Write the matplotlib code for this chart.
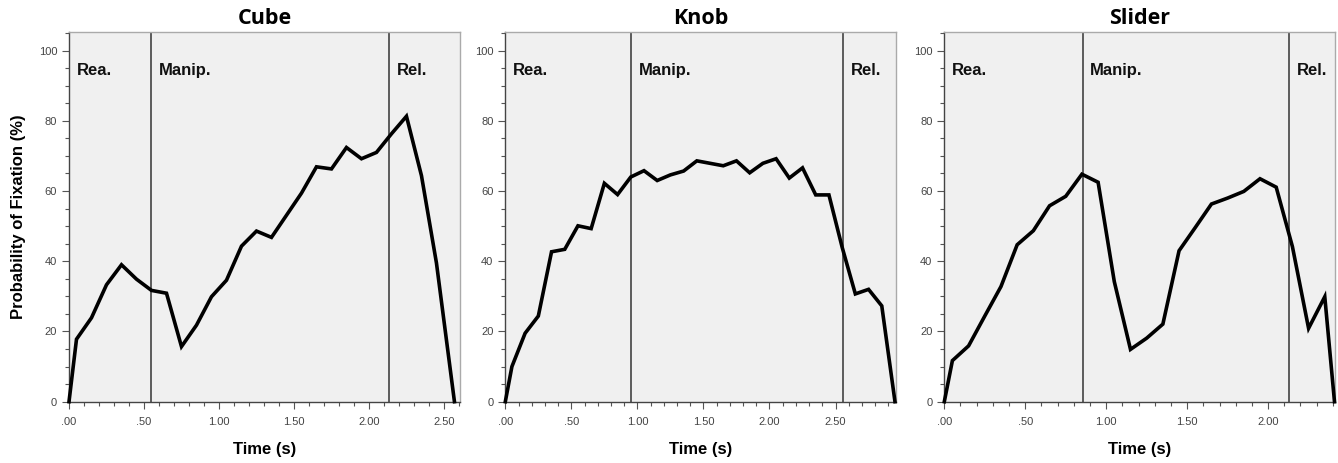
import matplotlib
matplotlib.use('Agg')
from matplotlib import pyplot as plt
from matplotlib.ticker import MultipleLocator, FuncFormatter

# time points (s) and probability of fixation (%)
cube_t = [0, 0.05, 0.15, 0.25, 0.35, 0.45, 0.55, 0.65, 0.75, 0.85, 0.95, 1.05,
          1.15, 1.25, 1.35, 1.45, 1.55, 1.65, 1.75, 1.85, 1.95, 2.05, 2.15,
          2.25, 2.35, 2.45, 2.57]
cube_p = [0, 17.8, 23.9, 33.3, 39.0, 34.9, 31.7, 30.9, 15.7, 21.8, 29.9, 34.6,
          44.3, 48.6, 46.8, 53.1, 59.4, 66.9, 66.3, 72.4, 69.2, 71.0, 76.3,
          81.3, 64.4, 39.5, 0]

knob_t = [0, 0.05, 0.15, 0.25, 0.35, 0.45, 0.55, 0.65, 0.75, 0.85, 0.95, 1.05,
          1.15, 1.25, 1.35, 1.45, 1.55, 1.65, 1.75, 1.85, 1.95, 2.05, 2.15,
          2.25, 2.35, 2.45, 2.55, 2.65, 2.75, 2.85, 2.95]
knob_p = [0, 10.0, 19.5, 24.4, 42.7, 43.4, 50.1, 49.3, 62.2, 59.0, 64.0, 65.8,
          63.0, 64.6, 65.7, 68.6, 67.9, 67.2, 68.6, 65.2, 67.9, 69.2, 63.7,
          66.6, 58.9, 58.9, 44.0, 30.7, 32.0, 27.3, 0]

slider_t = [0, 0.05, 0.15, 0.25, 0.35, 0.45, 0.55, 0.65, 0.75, 0.85, 0.95, 1.05,
            1.15, 1.25, 1.35, 1.45, 1.55, 1.65, 1.75, 1.85, 1.95, 2.05, 2.15,
            2.25, 2.35, 2.41]
slider_p = [0, 11.7, 15.9, 24.4, 32.8, 44.7, 48.7, 55.8, 58.5, 64.8, 62.5, 34.2,
            14.9, 18.1, 22.1, 43.0, 49.6, 56.3, 58.0, 59.9, 63.5, 61.1, 44.2,
            20.9, 29.9, 0]

titles = ['Cube', 'Knob', 'Slider']
phase_names = ['Rea.', 'Manip.', 'Rel.']
phase_bounds = [[0.55, 2.135], [0.95, 2.555], [0.855, 2.13]]
x_max = [2.607, 2.96, 2.415]

series = [(cube_t, cube_p), (knob_t, knob_p), (slider_t, slider_p)]
lefts = [69, 505.3, 944.3]

W, H = 1338, 463
fig = plt.figure(figsize=(W / 100, H / 100), dpi=100)
fig.patch.set_facecolor('white')


def fmt_time(v, pos):
    s = '%.2f' % v
    if s.startswith('0'):
        s = s[1:]
    return s


for i in range(3):
    ax = fig.add_axes([lefts[i] / W, (H - 401.7) / H, 391 / W, 369.7 / H])
    ax.set_facecolor('#f0f0f0')
    t, p = series[i]
    ax.plot(t, p, color='black', linewidth=2.6, solid_joinstyle='miter',
            clip_on=False, zorder=3)
    for b in phase_bounds[i]:
        ax.axvline(b, color='#333333', linewidth=1.1, zorder=2)
    starts = [0] + phase_bounds[i]
    for s, name in zip(starts, phase_names):
        ax.annotate(name, xy=(s, 94.4), xytext=(5.5, 0), textcoords='offset points',
                    fontsize=12, fontweight='bold', family='Liberation Sans',
                    va='center', ha='left', color='#111111')
    ax.set_xlim(0, x_max[i])
    ax.set_ylim(0, 105.3)
    ax.yaxis.set_major_locator(MultipleLocator(20))
    ax.yaxis.set_minor_locator(MultipleLocator(5))
    ax.xaxis.set_major_locator(MultipleLocator(0.5))
    ax.xaxis.set_minor_locator(MultipleLocator(0.1))
    ax.xaxis.set_major_formatter(FuncFormatter(fmt_time))
    ax.tick_params(axis='both', which='major', labelsize=8, labelcolor='#444444',
                   color='#555555', length=5, width=0.8)
    ax.tick_params(axis='both', which='minor', color='#555555', length=3, width=0.8)
    ax.tick_params(axis='x', which='major', pad=6)
    for lab in ax.get_xticklabels() + ax.get_yticklabels():
        lab.set_family('Liberation Sans')
    ax.spines['left'].set_color('#444444')
    ax.spines['bottom'].set_color('#444444')
    ax.spines['top'].set_color('#aaaaaa')
    ax.spines['right'].set_color('#aaaaaa')
    for sp in ax.spines.values():
        sp.set_linewidth(1.0)
    ax.set_title(titles[i], fontsize=15.5, fontweight='bold', family='Open Sans', pad=6)
    ax.set_xlabel('Time (s)', fontsize=12, fontweight='bold', family='Liberation Sans',
                  labelpad=11)
    if i == 0:
        ax.set_ylabel('Probability of Fixation (%)', fontsize=12, fontweight='bold',
                      family='Liberation Sans', labelpad=9)

fig.savefig('out.png', dpi=100)
